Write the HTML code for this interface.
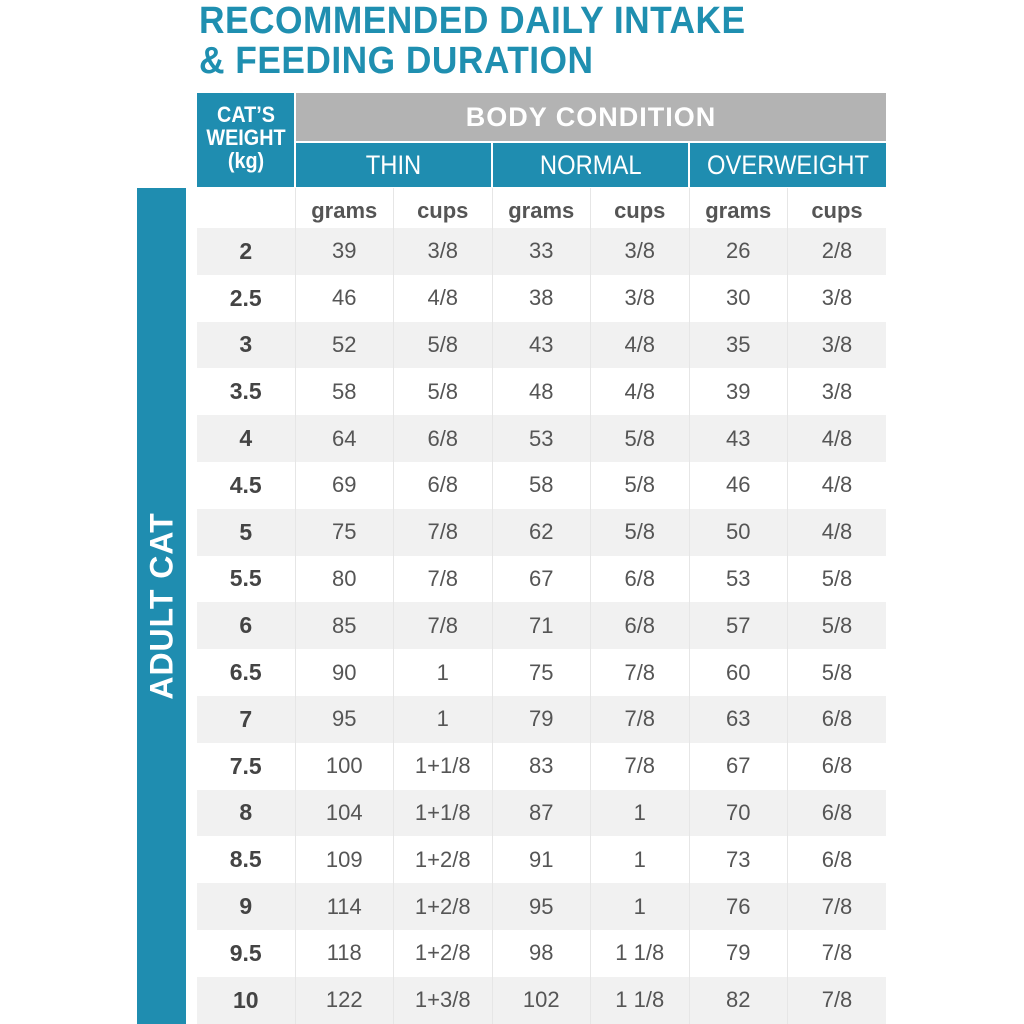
<!DOCTYPE html>
<html><head><meta charset="utf-8"><style>
body{margin:0;width:1024px;height:1024px;background:#fff;position:relative;overflow:hidden;font-family:"Liberation Sans Narrow","Liberation Sans",sans-serif;}
.t{position:absolute;left:199px;color:#1f8fb0;font-weight:bold;font-size:38px;letter-spacing:0.5px;font-family:"Liberation Sans",sans-serif;transform-origin:left top;transform:scaleX(0.93)}
.box{position:absolute;}
table{position:absolute;left:197px;top:188px;border-collapse:collapse;table-layout:fixed;width:689px}
td{padding:0;text-align:center;color:#555;font-size:22px;border-left:1px solid #e6e6e6;}
td:first-child{border-left:none;font-weight:bold;color:#444;font-size:23px}
tr.h td{height:40px;font-weight:bold;color:#555;font-size:22px}
tr.h td span{position:relative;top:3px}
tr.r td{height:46.8px}
tr.g td{background:#f1f1f1}
.hd{color:#fff;font-size:27px;line-height:44px;text-align:center;background:#1f8db0;top:143px;height:44px}
.hd span{display:inline-block;transform:scaleX(0.88)}
</style></head><body>
<div class="t" style="top:0px">RECOMMENDED DAILY INTAKE</div>
<div class="t" style="top:40px">&amp; FEEDING DURATION</div>
<div class="box" style="left:197px;top:93px;width:97px;height:94px;background:#1f8db0;color:#fff;font-weight:bold;font-size:22px;line-height:23px;text-align:center;padding-top:10px;box-sizing:border-box"><span style="display:inline-block;transform:scaleX(0.9)">CAT’S<br>WEIGHT<br>(kg)</span></div>
<div class="box" style="left:296px;top:93px;width:590px;height:48px;background:#b3b3b3;color:#fff;font-weight:bold;font-size:27px;line-height:48px;text-align:center;letter-spacing:1px">BODY CONDITION</div>
<div class="box hd" style="left:296px;width:195px"><span>THIN</span></div>
<div class="box hd" style="left:493px;width:195px"><span>NORMAL</span></div>
<div class="box hd" style="left:690px;width:196px"><span>OVERWEIGHT</span></div>
<div class="box" style="left:137px;top:188px;width:49px;height:836px;background:#1f8db0"></div>
<div class="box" style="left:162px;top:606px;transform:translate(-50%,-50%) rotate(-90deg);color:#fff;font-weight:bold;font-size:32px;white-space:nowrap;letter-spacing:1px">ADULT CAT</div>
<table>
<colgroup><col style="width:98px"><col><col><col><col><col><col></colgroup>
<tr class="h"><td></td><td><span>grams</span></td><td><span>cups</span></td><td><span>grams</span></td><td><span>cups</span></td><td><span>grams</span></td><td><span>cups</span></td></tr>
<tr class="r g"><td>2</td><td>39</td><td>3/8</td><td>33</td><td>3/8</td><td>26</td><td>2/8</td></tr>
<tr class="r"><td>2.5</td><td>46</td><td>4/8</td><td>38</td><td>3/8</td><td>30</td><td>3/8</td></tr>
<tr class="r g"><td>3</td><td>52</td><td>5/8</td><td>43</td><td>4/8</td><td>35</td><td>3/8</td></tr>
<tr class="r"><td>3.5</td><td>58</td><td>5/8</td><td>48</td><td>4/8</td><td>39</td><td>3/8</td></tr>
<tr class="r g"><td>4</td><td>64</td><td>6/8</td><td>53</td><td>5/8</td><td>43</td><td>4/8</td></tr>
<tr class="r"><td>4.5</td><td>69</td><td>6/8</td><td>58</td><td>5/8</td><td>46</td><td>4/8</td></tr>
<tr class="r g"><td>5</td><td>75</td><td>7/8</td><td>62</td><td>5/8</td><td>50</td><td>4/8</td></tr>
<tr class="r"><td>5.5</td><td>80</td><td>7/8</td><td>67</td><td>6/8</td><td>53</td><td>5/8</td></tr>
<tr class="r g"><td>6</td><td>85</td><td>7/8</td><td>71</td><td>6/8</td><td>57</td><td>5/8</td></tr>
<tr class="r"><td>6.5</td><td>90</td><td>1</td><td>75</td><td>7/8</td><td>60</td><td>5/8</td></tr>
<tr class="r g"><td>7</td><td>95</td><td>1</td><td>79</td><td>7/8</td><td>63</td><td>6/8</td></tr>
<tr class="r"><td>7.5</td><td>100</td><td>1+1/8</td><td>83</td><td>7/8</td><td>67</td><td>6/8</td></tr>
<tr class="r g"><td>8</td><td>104</td><td>1+1/8</td><td>87</td><td>1</td><td>70</td><td>6/8</td></tr>
<tr class="r"><td>8.5</td><td>109</td><td>1+2/8</td><td>91</td><td>1</td><td>73</td><td>6/8</td></tr>
<tr class="r g"><td>9</td><td>114</td><td>1+2/8</td><td>95</td><td>1</td><td>76</td><td>7/8</td></tr>
<tr class="r"><td>9.5</td><td>118</td><td>1+2/8</td><td>98</td><td>1 1/8</td><td>79</td><td>7/8</td></tr>
<tr class="r g"><td>10</td><td>122</td><td>1+3/8</td><td>102</td><td>1 1/8</td><td>82</td><td>7/8</td></tr>
</table>
</body></html>
